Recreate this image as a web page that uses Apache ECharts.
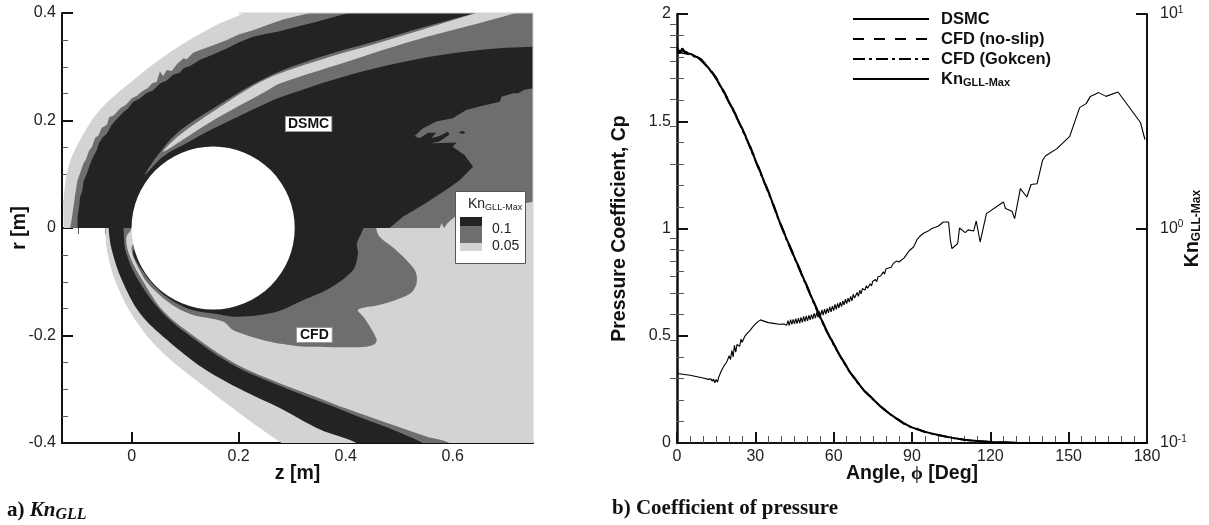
<!DOCTYPE html>
<html>
<head>
<meta charset="utf-8">
<title>Kn GLL and coefficient of pressure</title>
<script src="https://cdn.jsdelivr.net/npm/echarts@6/dist/echarts.min.js"></script>
<style>
  html, body { margin: 0; padding: 0; background: #fff; }
  #chart { width: 1209px; height: 525px; }
</style>
</head>
<body>
<div id="chart"></div>
<script>
// left panel, contour outlines as [z, r] in metres (ends run past the frame and get clipped)
const lightUpper = [[-0.127,-0.05],[-0.127,0],[-0.127,0.052],[-0.118,0.114],[-0.096,0.164],[-0.059,0.22],[0.003,0.275],[0.078,0.331],[0.153,0.375],[0.209,0.4],[0.27,0.44],[0.9,0.5],[0.9,-0.05]]
const midUpper = [[-0.115,-0.02],[-0.115,0],[-0.112,0.015],[-0.11,0.03],[-0.107,0.05],[-0.105,0.065],[-0.101,0.089],[-0.097,0.1],[-0.09,0.12],[-0.085,0.128],[-0.08,0.143],[-0.074,0.151],[-0.068,0.168],[-0.062,0.172],[-0.056,0.186],[-0.046,0.192],[-0.042,0.206],[-0.033,0.21],[-0.021,0.223],[-0.01,0.23],[0,0.241],[0.01,0.246],[0.019,0.254],[0.03,0.26],[0.038,0.269],[0.047,0.272],[0.053,0.291],[0.059,0.283],[0.066,0.294],[0.075,0.292],[0.085,0.305],[0.097,0.316],[0.103,0.314],[0.115,0.326],[0.128,0.331],[0.15,0.339],[0.178,0.35],[0.2,0.36],[0.227,0.368],[0.255,0.378],[0.283,0.388],[0.333,0.4],[0.36,0.44],[0.9,0.5],[0.9,-0.05]]
const blackUpper = [[-0.101,-0.02],[-0.101,0.02],[-0.098,0.04],[-0.096,0.058],[-0.092,0.07],[-0.09,0.086],[-0.084,0.1],[-0.077,0.12],[-0.073,0.13],[-0.065,0.145],[-0.061,0.158],[-0.053,0.17],[-0.046,0.176],[-0.037,0.192],[-0.03,0.2],[-0.015,0.216],[-0.007,0.222],[0.003,0.235],[0.014,0.24],[0.028,0.251],[0.04,0.256],[0.053,0.269],[0.065,0.274],[0.078,0.285],[0.09,0.289],[0.097,0.297],[0.11,0.302],[0.128,0.313],[0.15,0.322],[0.178,0.334],[0.2,0.345],[0.227,0.356],[0.25,0.361],[0.277,0.366],[0.31,0.375],[0.339,0.382],[0.39,0.396],[0.405,0.4],[0.43,0.44],[0.9,0.5],[0.9,-0.05]]
const midWedge = [[0.025,0.099],[0.047,0.133],[0.084,0.176],[0.153,0.223],[0.252,0.28],[0.352,0.318],[0.464,0.35],[0.55,0.375],[0.644,0.4],[0.76,0.43],[0.9,0.5],[0.9,0.34],[0.75,0.337],[0.65,0.331],[0.526,0.3126],[0.401,0.283],[0.277,0.243],[0.252,0.232],[0.153,0.185],[0.103,0.158],[0.059,0.133]]
const lightStripe = [[0.059,0.142],[0.09,0.173],[0.159,0.221],[0.252,0.277],[0.352,0.3126],[0.464,0.345],[0.644,0.4],[0.7,0.417],[0.76,0.417],[0.718,0.4],[0.526,0.3485],[0.401,0.309],[0.277,0.269],[0.252,0.255],[0.159,0.204],[0.103,0.169]]
const midWake = [[0.75,0.26],[0.734,0.257],[0.722,0.2505],[0.713,0.2505],[0.691,0.244],[0.688,0.235],[0.65,0.226],[0.625,0.2195],[0.6,0.204],[0.569,0.198],[0.544,0.185],[0.529,0.171],[0.538,0.167],[0.554,0.177],[0.569,0.177],[0.56,0.167],[0.575,0.171],[0.591,0.179],[0.594,0.174],[0.575,0.161],[0.56,0.1575],[0.607,0.159],[0.6,0.151],[0.622,0.136],[0.638,0.114],[0.613,0.089],[0.588,0.071],[0.544,0.043],[0.507,0.021],[0.482,0],[0.75,0]]
const blackIsland = [[0.611,0.178],[0.618,0.181],[0.624,0.177],[0.618,0.175]]
const lightWake = [[0.576,0],[0.579,0.009],[0.584,0],[0.59,0.009],[0.604,0.021],[0.75,0.049],[0.75,0]]
const lightLower = [[-0.049,0.03],[-0.049,0],[-0.046,-0.041],[-0.031,-0.097],[0.003,-0.165],[0.053,-0.227],[0.128,-0.289],[0.202,-0.345],[0.28,-0.4],[0.34,-0.44],[0.9,-0.5],[0.9,0.03]]
const midLower = [[-0.03,0.03],[-0.03,0],[-0.025,-0.041],[-0.005,-0.097],[0.03,-0.159],[0.08,-0.2],[0.15,-0.25],[0.22,-0.29],[0.29,-0.322],[0.36,-0.36],[0.44,-0.39],[0.5,-0.44],[0.65,-0.44],[0.594,-0.4],[0.551,-0.388],[0.401,-0.336],[0.352,-0.317],[0.265,-0.284],[0.19,-0.25],[0.115,-0.2],[0.059,-0.154],[0.022,-0.1],[-0.003,-0.053],[-0.01,-0.019],[0,0],[0,0.03]]
const blackLower = [[-0.043,0.03],[-0.043,0],[-0.037,-0.041],[-0.018,-0.097],[0.016,-0.159],[0.066,-0.208],[0.134,-0.261],[0.209,-0.303],[0.277,-0.335],[0.352,-0.375],[0.42,-0.4],[0.48,-0.44],[0.6,-0.44],[0.544,-0.4],[0.401,-0.342],[0.352,-0.323],[0.265,-0.289],[0.19,-0.255],[0.115,-0.205],[0.059,-0.159],[0.016,-0.103],[-0.01,-0.047],[-0.015,0],[-0.015,0.03]]
const midCfd = [[0.15,0.03],[0.003,-0.03],[0.022,-0.091],[0.053,-0.125],[0.084,-0.148],[0.115,-0.162],[0.171,-0.174],[0.19,-0.19],[0.252,-0.21],[0.314,-0.22],[0.339,-0.221],[0.388,-0.222],[0.439,-0.221],[0.454,-0.216],[0.458,-0.208],[0.445,-0.183],[0.433,-0.165],[0.423,-0.152],[0.464,-0.143],[0.501,-0.131],[0.524,-0.119],[0.533,-0.1],[0.529,-0.078],[0.494,-0.041],[0.463,-0.016],[0.457,0],[0.457,0.03]]
const blackCfd = [[0.15,0.03],[0.005,-0.04],[0.022,-0.082],[0.053,-0.118],[0.084,-0.14],[0.115,-0.153],[0.159,-0.16],[0.19,-0.165],[0.24,-0.162],[0.277,-0.154],[0.314,-0.137],[0.37,-0.112],[0.414,-0.078],[0.423,-0.047],[0.421,-0.029],[0.433,0],[0.433,0.03]]
const frameEdge = [[0.2,0.4],[0.75,0.4],[0.75,-0.4]]
const bodyCenter = [0.1524, 0]
const bodyRadius = 0.1524

// right panel
const cpAngle = [0,1,2,3,6,9,12,15,18,21,24,27,30,33,36,39,42,45,48,51,54,57,60,63,66,69,72,75,78,81,84,87,90,95,100,105,110,115,120,125,130,140,180]
const cpDsmc = [1.845,1.815,1.84,1.822,1.81,1.79,1.75,1.7,1.635,1.565,1.49,1.41,1.32,1.23,1.14,1.04,0.95,0.865,0.78,0.695,0.61,0.53,0.46,0.395,0.335,0.285,0.24,0.205,0.17,0.14,0.115,0.09,0.073,0.052,0.037,0.025,0.015,0.009,0.005,0.003,0.001,0,0]
const cpNoSlip = [1.83,1.83,1.828,1.826,1.812,1.792,1.755,1.705,1.64,1.57,1.495,1.415,1.326,1.235,1.145,1.045,0.955,0.87,0.785,0.7,0.615,0.535,0.464,0.398,0.338,0.288,0.243,0.207,0.172,0.142,0.117,0.092,0.075,0.054,0.038,0.026,0.016,0.01,0.006,0.003,0.001,0,0]
const cpGokcen = [1.82,1.82,1.818,1.816,1.805,1.785,1.748,1.697,1.63,1.56,1.485,1.405,1.315,1.225,1.135,1.035,0.945,0.86,0.775,0.69,0.605,0.526,0.456,0.392,0.332,0.282,0.238,0.203,0.168,0.138,0.113,0.088,0.071,0.05,0.036,0.024,0.014,0.008,0.004,0.002,0.001,0,0]
const knMax = [[0,0.211],[5,0.207],[10,0.201],[12,0.198],[13,0.199],[13.5,0.194],[14,0.199],[14.5,0.191],[15,0.198],[15.5,0.192],[16,0.203],[17,0.217],[18,0.229],[19,0.238],[20,0.255],[20.5,0.245],[21,0.27],[21.5,0.252],[22,0.285],[22.5,0.265],[23,0.288],[24,0.282],[24.5,0.305],[25,0.295],[26,0.315],[27,0.325],[28,0.335],[29,0.348],[30,0.358],[31,0.368],[32,0.375],[33,0.371],[35,0.364],[37,0.361],[39,0.358],[41,0.359],
  [42,0.354],[42.5,0.372],[43,0.353],[43.5,0.376],[44,0.357],[44.5,0.377],[45,0.359],[45.5,0.38],[46,0.36],[46.5,0.382],[47,0.362],[47.5,0.385],[48,0.365],[48.5,0.389],[49,0.368],[49.5,0.391],[50,0.371],[50.5,0.394],[51,0.375],[51.5,0.397],[52,0.378],[52.5,0.402],[53,0.382],[53.5,0.406],[54,0.385],[54.5,0.411],[55,0.391],[55.5,0.418],[56,0.395],[56.5,0.421],[57,0.399],[57.5,0.424],[58,0.404],[58.5,0.431],[59,0.409],[59.5,0.435],[60,0.414],[60.5,0.443],[61,0.42],[61.5,0.448],[62,0.426],[62.5,0.454],[63,0.432],[63.5,0.46],[64,0.44],[64.5,0.468],[65,0.446],[65.5,0.474],[66,0.454],[66.5,0.482],[67,0.46],[67.5,0.494],[68,0.474],[69,0.503],[69.5,0.483],[70,0.516],[70.5,0.496],[71,0.525],[72,0.516],[72.5,0.541],[73,0.527],[74,0.553],[74.5,0.54],[75,0.568],[76,0.578],[76.5,0.565],[77,0.596],[78,0.6],[79,0.628],[79.5,0.612],[80,0.648],[81,0.655],[82,0.66],[83,0.69],[84,0.705],[85,0.698],
  [87,0.73],[88,0.76],[89,0.79],[90.6,0.82],[91.9,0.887],[93,0.92],[94.4,0.95],[96,0.97],[97.6,1],[100,1.024],[102,1.072],[104,1.072],[104.7,0.881],[105.3,0.806],[107.5,0.851],[108.2,1.005],[110.4,0.957],[111.5,0.985],[113.6,0.973],[114.6,1.084],[116.1,0.865],[118.5,1.173],[125,1.33],[125.8,1.239],[128.3,1.203],[129.3,1.112],[131.5,1.535],[134,1.402],[135.6,1.603],[137.9,1.618],[140,2.08],[141.1,2.178],[145.5,2.357],[150.4,2.69],[154.2,3.66],[156.7,3.82],[158.3,4.13],[161.5,4.3],[164.3,4.13],[168.9,4.33],[177.5,3.12],[179.2,2.6]]

// tick positions
const zMajorTicks = [0, 0.2, 0.4, 0.6]
const zMinorTicks = [-0.1, -0.05, 0.05, 0.1, 0.15, 0.25, 0.3, 0.35, 0.45, 0.5, 0.55, 0.65, 0.7]
const knMajorTicks = [0.1, 1, 10]
const knMinorTicks = [0.2, 0.3, 0.4, 0.5, 0.6, 0.7, 0.8, 0.9, 2, 3, 4, 5, 6, 7, 8, 9]

const BLACK = '#232323'
const MID = '#6e6e6e'
const LIGHT = '#d3d3d3'
const SANS = '"Liberation Sans", Arial, sans-serif'
const SERIF = '"Liberation Serif", "Times New Roman", serif'

// half is 1 for r > 0, -1 for r < 0: the shock-layer contours stop at the symmetry line
const polygon = (points, fill, half, smooth) => ({
  type: 'custom',
  xAxisIndex: 0,
  yAxisIndex: 0,
  silent: true,
  clip: true,
  data: [0],
  renderItem: (params, api) => {
    const a = api.coord([-0.13, half > 0 ? 0.4 : 0])
    const b = api.coord([0.75, half > 0 ? 0 : -0.4])
    return {
      type: 'polygon',
      shape: { points: points.map(p => api.coord(p)), smooth: smooth || 0 },
      style: { fill },
      clipPath: { type: 'rect', shape: { x: a[0], y: a[1], width: b[0] - a[0], height: b[1] - a[1] } }
    }
  }
})

const frame = {
  type: 'custom',
  xAxisIndex: 0,
  yAxisIndex: 0,
  silent: true,
  data: [0],
  renderItem: (params, api) => ({
    type: 'polyline',
    shape: { points: frameEdge.map(p => api.coord(p)) },
    style: { fill: 'none', stroke: LIGHT, lineWidth: 1 }
  })
}

const body = {
  type: 'custom',
  xAxisIndex: 0,
  yAxisIndex: 0,
  silent: true,
  data: [0],
  renderItem: (params, api) => {
    const c = api.coord(bodyCenter)
    return { type: 'circle', shape: { cx: c[0], cy: c[1], r: api.size([bodyRadius, 0])[0] }, style: { fill: '#fff' } }
  }
}

const line = (name, data, yAxisIndex, width, type) => ({
  name,
  type: 'line',
  data,
  xAxisIndex: 2,
  yAxisIndex,
  symbol: 'none',
  silent: true,
  lineStyle: { color: '#000', width, type }
})

const cpPairs = values => cpAngle.map((a, i) => [a, values[i]])

const majorTick = { show: true, inside: true, length: 11, lineStyle: { color: '#111', width: 2 } }
const minorTick = { show: true, length: 7, lineStyle: { color: '#555', width: 1 } }
const axisLine = { show: true, onZero: false, lineStyle: { color: '#111', width: 2 } }
const tickLabel = { color: '#222', fontFamily: SANS, fontSize: 16, margin: 6 }
const axisName = { color: '#111', fontFamily: SANS, fontSize: 19.5, fontWeight: 'bold' }

const option = {
  animation: false,
  backgroundColor: '#fff',
  title: [
    {
      text: '{b|a) }{i|Kn}{s|GLL}',
      left: 7,
      top: 499,
      padding: 0,
      textStyle: {
        rich: {
          b: { fontFamily: SERIF, fontSize: 21, fontWeight: 'bold', color: '#111' },
          i: { fontFamily: SERIF, fontSize: 21, fontWeight: 'bold', fontStyle: 'italic', color: '#111' },
          s: { fontFamily: SERIF, fontSize: 16, fontWeight: 'bold', fontStyle: 'italic', color: '#111', padding: [8, 0, 0, 0] }
        }
      }
    },
    {
      text: 'b) Coefficient of pressure',
      left: 612,
      top: 498,
      padding: 0,
      textStyle: { fontFamily: SERIF, fontSize: 21, fontWeight: 'bold', color: '#111' }
    }
  ],
  legend: {
    orient: 'vertical',
    left: 852,
    top: 9,
    padding: 0,
    itemWidth: 76,
    itemHeight: 10,
    itemGap: 0,
    selectedMode: false,
    itemStyle: { opacity: 0 },
    data: ['DSMC', 'CFD (no-slip)', 'CFD (Gokcen)', 'KnGLL-Max'],
    formatter: name => (name === 'KnGLL-Max' ? '{n|Kn}{s|GLL-Max}' : '{n|' + name + '}'),
    textStyle: {
      rich: {
        n: { fontFamily: SANS, fontSize: 16.5, fontWeight: 'bold', color: '#111', height: 20, lineHeight: 20, padding: [0, 0, 0, 7] },
        s: { fontFamily: SANS, fontSize: 11, fontWeight: 'bold', color: '#111', padding: [8, 0, 0, 0] }
      }
    }
  },
  grid: [
    { left: 62, width: 471, top: 13, height: 430 },
    { left: 677, width: 470, top: 14, height: 429 }
  ],
  xAxis: [
    {
      type: 'value',
      gridIndex: 0,
      min: -0.13,
      max: 0.75,
      name: 'z [m]',
      nameLocation: 'middle',
      nameGap: 21,
      nameMoveOverlap: false,
      nameTextStyle: axisName,
      axisLine,
      axisTick: { ...majorTick, customValues: zMajorTicks },
      axisLabel: { ...tickLabel, customValues: zMajorTicks, formatter: v => String(v) },
      splitLine: { show: false }
    },
    {
      type: 'value',
      gridIndex: 0,
      min: -0.13,
      max: 0.75,
      axisLine: { show: false },
      axisTick: { show: true, inside: true, length: 6, customValues: zMinorTicks, lineStyle: { color: '#555', width: 1 } },
      axisLabel: { show: false },
      splitLine: { show: false }
    },
    {
      type: 'value',
      gridIndex: 1,
      min: 0,
      max: 180,
      interval: 30,
      name: 'Angle, {p|ϕ} [Deg]',
      nameLocation: 'middle',
      nameGap: 21,
      nameMoveOverlap: false,
      nameTextStyle: { ...axisName, rich: { p: { fontFamily: SERIF, fontSize: 19, color: '#111' } } },
      axisLine,
      axisTick: majorTick,
      minorTick: { ...minorTick, splitNumber: 6 },
      axisLabel: tickLabel,
      splitLine: { show: false }
    }
  ],
  yAxis: [
    {
      type: 'value',
      gridIndex: 0,
      min: -0.4,
      max: 0.4,
      interval: 0.2,
      name: 'r [m]',
      nameLocation: 'middle',
      nameGap: 32,
      nameMoveOverlap: false,
      nameTextStyle: axisName,
      axisLine,
      axisTick: majorTick,
      minorTick: { ...minorTick, length: 6, splitNumber: 4 },
      axisLabel: tickLabel,
      splitLine: { show: false }
    },
    {
      type: 'value',
      gridIndex: 1,
      min: 0,
      max: 2,
      interval: 0.5,
      name: 'Pressure Coefficient, Cp',
      nameLocation: 'middle',
      nameGap: 47,
      nameMoveOverlap: false,
      nameTextStyle: axisName,
      axisLine: { ...axisLine, lineStyle: { color: '#111', width: 2.5 } },
      axisTick: majorTick,
      minorTick: { ...minorTick, splitNumber: 5 },
      axisLabel: tickLabel,
      splitLine: { show: false }
    },
    {
      type: 'log',
      logBase: 10,
      gridIndex: 1,
      position: 'right',
      min: 0.1,
      max: 10,
      name: '{n|Kn}{s|GLL-Max}',
      nameLocation: 'middle',
      nameGap: 36,
      nameMoveOverlap: false,
      nameRotate: 90,
      nameTextStyle: {
        rich: {
          n: { fontFamily: SANS, fontSize: 19.5, fontWeight: 'bold', color: '#111' },
          s: { fontFamily: SANS, fontSize: 12, fontWeight: 'bold', color: '#111', padding: [8, 0, 0, 0] }
        }
      },
      axisLine,
      axisTick: { ...majorTick, customValues: knMajorTicks },
      axisLabel: {
        ...tickLabel,
        margin: 13,
        customValues: knMajorTicks,
        formatter: v => '10{s|' + Math.round(Math.log10(v)) + '}',
        rich: { s: { fontFamily: SANS, fontSize: 10, color: '#222', padding: [0, 0, 8, 0] } }
      },
      splitLine: { show: false }
    },
    {
      type: 'log',
      logBase: 10,
      gridIndex: 1,
      position: 'right',
      min: 0.1,
      max: 10,
      axisLine: { show: false },
      axisTick: { show: true, inside: true, length: 7, customValues: knMinorTicks, lineStyle: { color: '#555', width: 1 } },
      axisLabel: { show: false },
      splitLine: { show: false }
    }
  ],
  series: [
    polygon(lightUpper, LIGHT, 1, 0.35),
    polygon(midUpper, MID, 1),
    polygon(blackUpper, BLACK, 1),
    polygon(midWedge, MID, 1, 0.35),
    polygon(lightStripe, LIGHT, 1, 0.35),
    polygon(midWake, MID, 1),
    polygon(blackIsland, BLACK, 1),
    polygon(lightWake, LIGHT, 1),
    polygon(lightLower, LIGHT, -1, 0.35),
    polygon(midLower, MID, -1, 0.35),
    polygon(blackLower, BLACK, -1, 0.35),
    polygon(midCfd, MID, -1, 0.3),
    polygon(blackCfd, BLACK, -1, 0.3),
    frame,
    body,
    line('DSMC', cpPairs(cpDsmc), 1, 2, 'solid'),
    line('CFD (no-slip)', cpPairs(cpNoSlip), 1, 1.5, [11, 10]),
    line('CFD (Gokcen)', cpPairs(cpGokcen), 1, 1.5, [12, 4, 3, 4]),
    line('KnGLL-Max', knMax, 2, 1.1, 'solid')
  ],
  graphic: [
    // contour legend box
    { type: 'rect', z: 50, shape: { x: 455.5, y: 191.5, width: 70, height: 72 }, style: { fill: '#fff', stroke: '#555', lineWidth: 1 } },
    { type: 'rect', z: 51, shape: { x: 460, y: 217, width: 22, height: 9 }, style: { fill: BLACK } },
    { type: 'rect', z: 51, shape: { x: 460, y: 226, width: 22, height: 17 }, style: { fill: MID } },
    { type: 'rect', z: 51, shape: { x: 460, y: 243, width: 22, height: 8 }, style: { fill: LIGHT } },
    {
      type: 'text', z: 52, x: 468, y: 197,
      style: {
        text: '{n|Kn}{s|GLL-Max}',
        rich: {
          n: { fontFamily: SANS, fontSize: 14, fill: '#222' },
          s: { fontFamily: SANS, fontSize: 9, fill: '#222', padding: [6, 0, 0, 0] }
        }
      }
    },
    { type: 'text', z: 52, x: 492, y: 222, style: { text: '0.1', fontFamily: SANS, fontSize: 14, fill: '#222' } },
    { type: 'text', z: 52, x: 492, y: 239, style: { text: '0.05', fontFamily: SANS, fontSize: 14, fill: '#222' } },
    // labels on the contours
    {
      type: 'text', z: 52, x: 286, y: 117,
      style: { text: 'DSMC', fontFamily: SANS, fontSize: 14, fontWeight: 'bold', fill: '#111', backgroundColor: '#fff', borderColor: '#999', borderWidth: 1, padding: [0, 2, 0, 2], lineHeight: 14 }
    },
    {
      type: 'text', z: 52, x: 297, y: 328,
      style: { text: 'CFD', fontFamily: SANS, fontSize: 14, fontWeight: 'bold', fill: '#111', backgroundColor: '#fff', borderColor: '#999', borderWidth: 1, padding: [0, 3, 0, 3], lineHeight: 14 }
    }
  ]
}

const chart = echarts.init(document.getElementById('chart'))
chart.setOption(option)
window.addEventListener('resize', () => chart.resize())
</script>
</body>
</html>
